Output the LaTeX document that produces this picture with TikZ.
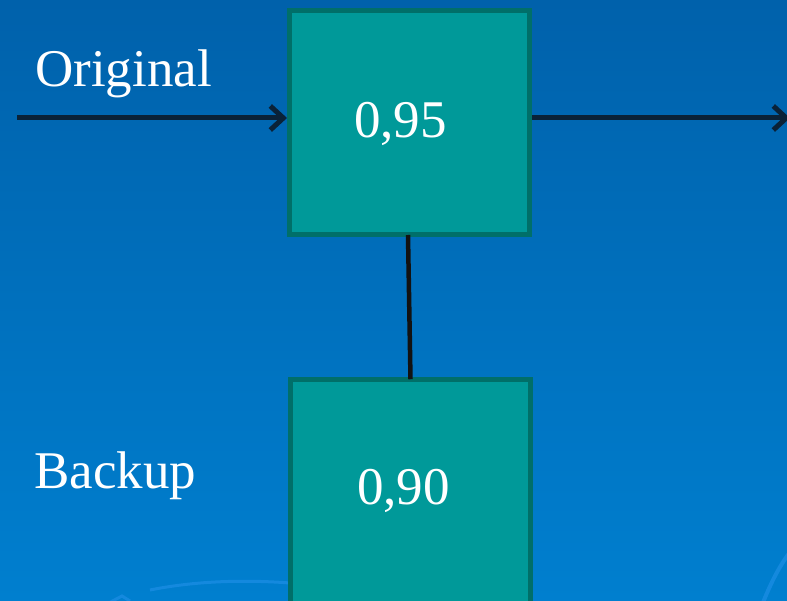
\documentclass[tikz,border=0pt]{standalone}
\usepackage{fontspec}
\setmainfont{Liberation Serif}
\usetikzlibrary{arrows.meta}
\definecolor{bgtop}{HTML}{0061AB}
\definecolor{bgbot}{HTML}{007FCF}
\definecolor{tealfill}{HTML}{009999}
\definecolor{tealedge}{HTML}{006F69}
\definecolor{arrowcol}{HTML}{0A2238}
\definecolor{swirl}{HTML}{1A8CE2}
\tikzset{
  boxnode/.style={draw=tealedge, fill=tealfill, line width=5pt, rectangle, inner sep=0pt, minimum width=240pt},
  lbl/.style={text=white, font=\fontsize{53}{62}\selectfont, inner sep=0pt, anchor=base west},
  arr/.style={draw=arrowcol, line width=5pt, -{Straight Barb[length=13pt,width=24pt,line width=5pt]}},
  link/.style={draw=black!93, line width=4.5pt}
}
\begin{document}
\begin{tikzpicture}[x=1pt,y=-1pt]
\useasboundingbox (0,0) rectangle (787,601);
\clip (0,0) rectangle (787,601);
\shade[top color=bgtop, bottom color=bgbot] (0,0) rectangle (787,601);
% faint background swirls
\draw[swirl, line width=3pt, opacity=0.8] (150,590) .. controls (200,580) and (250,580) .. (290,583);
\draw[swirl, line width=3pt, opacity=0.8] (105,605) -- (122,596) -- (130,601);
\draw[swirl, line width=4pt, opacity=0.8] (762,605) .. controls (770,585) and (778,568) .. (790,552);
% boxes
\node[boxnode, minimum height=224pt] (b1) at (409.5,122.5) {};
\node[boxnode, minimum height=240pt] (b2) at (410.5,499.75) {};
% labels
\node[lbl] (orig) at (35,87) {Original};
\node[lbl] (back) at (34,488) {Backup};
\node[lbl] (v1) at (354,138) {0,95};
\node[lbl] (v2) at (357,504) {0,90};
% connectors
\coordinate (in) at (17,118);
\coordinate (out) at (790,118);
\draw[arr] (in) -- (in -| b1.west);
\draw[arr] (out -| b1.east) -- (out);
\draw[link] ([xshift=-1.5pt,yshift=2pt]b1.south) -- ([yshift=-2pt]b2.north);
\end{tikzpicture}
\end{document}
